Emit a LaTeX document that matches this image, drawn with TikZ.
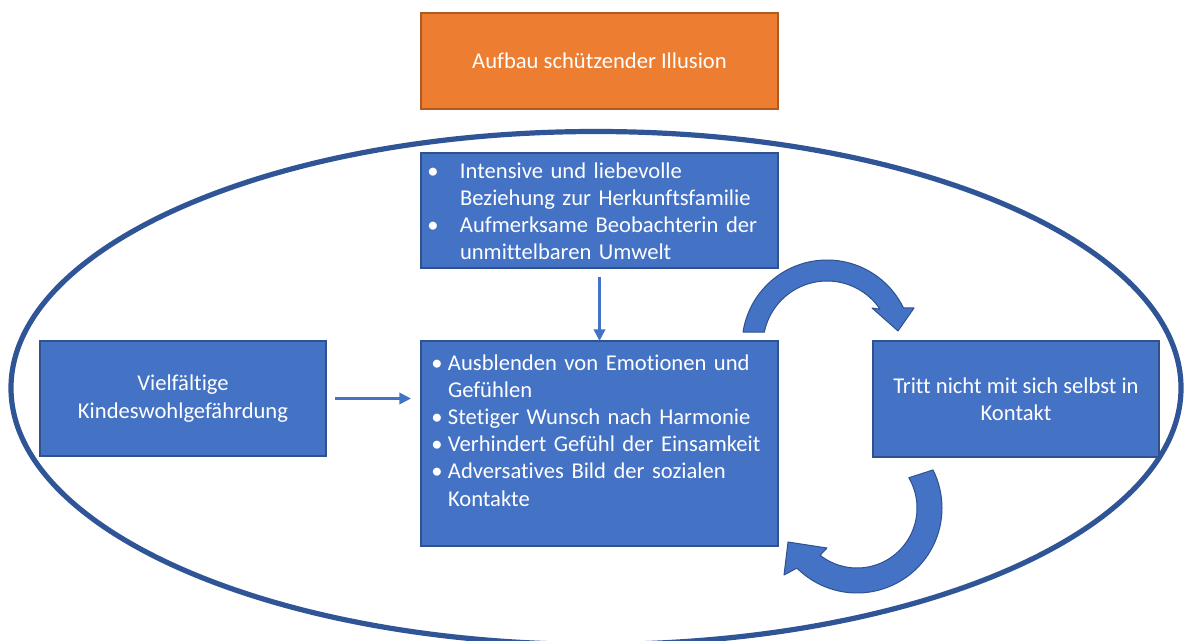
\documentclass[tikz,border=0pt]{standalone}
\usepackage{fontspec}
\setmainfont{Carlito}[Ligatures=NoCommon]
\usetikzlibrary{arrows.meta,shapes.geometric}
\definecolor{boxblue}{HTML}{4472C4}
\definecolor{boxedge}{HTML}{2F528F}
\definecolor{ringblue}{HTML}{2F5597}
\definecolor{orangefill}{HTML}{ED7D31}
\definecolor{orangeedge}{HTML}{AE5A21}
% bullet whose centre sits #1 to the left of the text start
\newcommand\blt[1]{\leavevmode\llap{\makebox[0pt]{\textbullet}\hspace*{#1}}}
\begin{document}
\begin{tikzpicture}[x=0.5pt,y=-0.5pt,
  txt/.style={font=\fontsize{11.3}{13.6}\selectfont, text=white},
  box/.style={txt, draw=boxedge, fill=boxblue, line width=0.6pt,
    inner sep=0pt, outer sep=0pt, align=center},
  orangebox/.style={box, draw=orangeedge, fill=orangefill},
  listtext/.style={txt, inner sep=0pt, outer sep=0pt, align=left,
    anchor=north west, text width=160pt},
  ring/.style={draw=ringblue, line width=2.6pt, ellipse, inner sep=0pt,
    minimum width=585pt, minimum height=256.5pt},
  arr/.style={draw=boxblue, line width=1.8pt,
    -{Triangle[length=5.8pt,width=5.6pt]}},
  bent/.style={fill=boxblue, draw=boxedge, line width=0.5pt, line join=round}
]
% canvas
\useasboundingbox (0,0) rectangle (1187,641);
\fill[white] (0,0) rectangle (1187,641);

% outer ring
\node[ring] (ring) at (596,388) {};

% boxes
\node[orangebox, minimum width=178.5pt, minimum height=48pt]
  (illusion) at (599.5,61) {Aufbau schützender Illusion};
\node[box, minimum width=178.5pt, minimum height=57.5pt]
  (top) at (599.5,210.5) {};
\node[box, minimum width=178.5pt, minimum height=102.5pt]
  (mid) at (599.5,443.5) {};
\node[box, minimum width=143pt, minimum height=57.5pt]
  (left) at (183,398.5) {Vielfältige\\Kindeswohlgefährdung};
\node[box, minimum width=143pt, minimum height=58pt]
  (right) at (1016,399) {Tritt nicht mit sich selbst in\\Kontakt};

% bullet lists
\node[listtext] (toptext) at ([shift={(39,6)}]top.north west)
  {\strut\blt{13.5pt}Intensive und liebevolle\\
   Beziehung zur Herkunftsfamilie\\
   \blt{13.5pt}Aufmerksame Beobachterin der\\
   unmittelbaren Umwelt};
\node[listtext] (midtext) at ([shift={(27,10)}]mid.north west)
  {\strut\blt{5.5pt}Ausblenden von Emotionen und\\
   Gefühlen\\
   \blt{5.5pt}Stetiger Wunsch nach Harmonie\\
   \blt{5.5pt}Verhindert Gefühl der Einsamkeit\\
   \blt{5.5pt}Adversatives Bild der sozialen\\
   Kontakte};

% straight connectors
\draw[arr, shorten <=4.5pt] (top.south) -- (mid.north);
\draw[arr, shorten <=4.5pt, shorten >=5pt] (left.east) -- (left.east -| mid.west);

% curved block arrow over the top: middle box -> right box
\path[bent]
  plot[domain=188.7:334, samples=50, variable=\t] ({827+85*cos(\t)},{345+85*sin(\t)})
  -- (914,308) -- (898,331) -- (872,308)
  -- plot[domain=326:191.5, samples=50, variable=\t] ({827+64*cos(\t)},{345+64*sin(\t)})
  -- cycle;

% curved block arrow underneath: right box -> middle box
\path[bent]
  plot[domain=-26.6:135, samples=50, variable=\t] ({857+85*cos(\t)},{508+85*sin(\t)})
  -- (784,575) -- (788,542) -- (827,548)
  -- plot[domain=128:-30.3, samples=50, variable=\t] ({857+60*cos(\t)},{508+60*sin(\t)})
  -- cycle;
\end{tikzpicture}
\end{document}
